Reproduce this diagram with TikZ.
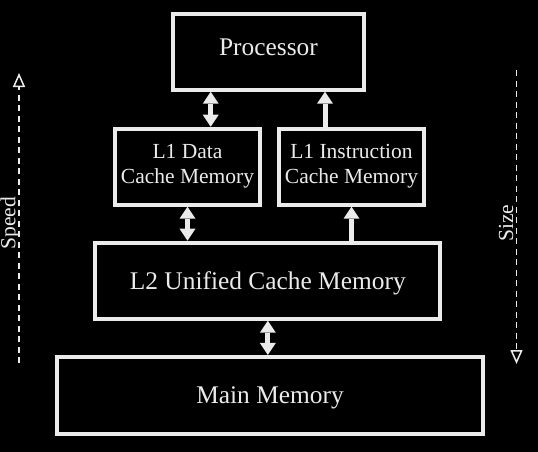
\documentclass[tikz,border=0pt]{standalone}
\usepackage{fontspec}
\setmainfont{Liberation Serif}
\usetikzlibrary{arrows.meta, positioning}
\definecolor{ink}{gray}{0.92}

\begin{document}
\begin{tikzpicture}[x=1pt, y=-1pt,
                box/.style={draw=ink, line width=4pt, minimum height=76pt, inner sep=0pt,
                            text=ink, align=center, font=\fontsize{25.4pt}{30pt}\selectfont},
                unit/.style={box, text depth=0pt},
                cache/.style={box, minimum width=145pt, font=\fontsize{21.5pt}{25pt}\selectfont},
                simplex/.style={ink, line width=5pt, -{Triangle[width=16pt, length=12pt, line width=0pt]}},
                duplex/.style={simplex, {Triangle[width=16pt, length=12pt, line width=0pt]}-{Triangle[width=16pt, length=12pt, line width=0pt]}},
                scale line/.style={ink, line width=1.5pt, dash pattern=on 6pt off 4.5pt,
                                   -{Triangle[open, width=12pt, length=14pt, line width=1.5pt]}},
                scale label/.style={text=ink, rotate=90, anchor=base, inner sep=0pt,
                                    font=\fontsize{21.5pt}{25pt}\selectfont}]

                % black page
                \useasboundingbox (0,0) rectangle (538,452);
                \fill[black] (0,0) rectangle (538,452);

                % memory hierarchy, top to bottom
                \node[unit, minimum width=191pt, text depth=10pt] (cpu) at (268.5,51.7) {Processor};
                \node[cache] (l1d) at (187.5,166.7) {L1 Data\\Cache Memory};
                \node[cache] (l1i) at (351.5,166.7) {L1 Instruction\\Cache Memory};
                \node[unit, minimum width=345pt] (l2) at (267.8,280.7) {L2 Unified Cache Memory};
                \node[unit, minimum width=426pt, minimum height=76.7pt] (mem) at (270,395.3) {Main Memory};

                % data paths
                \draw[duplex] ([xshift=23.2pt]l1d.north) -- ([xshift=23.2pt]l1d.north |- cpu.south);
                \draw[simplex] ([xshift=-26.5pt]l1i.north) -- ([xshift=-26.5pt]l1i.north |- cpu.south);
                \draw[duplex] (l2.north -| l1d.south) -- (l1d.south);
                \draw[simplex] (l2.north -| l1i.south) -- (l1i.south);
                \draw[duplex] (mem.north -| l2.south) -- (l2.south);

                % speed and size scales
                \coordinate (spd-lo) at (19,363);
                \coordinate (spd-hi) at (19,73);
                \coordinate (sz-hi) at (516.5,70);
                \coordinate (sz-lo) at (516.5,364);
                \draw[scale line] (spd-lo) -- (spd-hi);
                \draw[scale line] (sz-hi) -- (sz-lo);
                \node[scale label] (spd) at (15.5,223) {Speed};
                \node[scale label] (sz) at (513,223) {Size};
            \end{tikzpicture}
\end{document}
